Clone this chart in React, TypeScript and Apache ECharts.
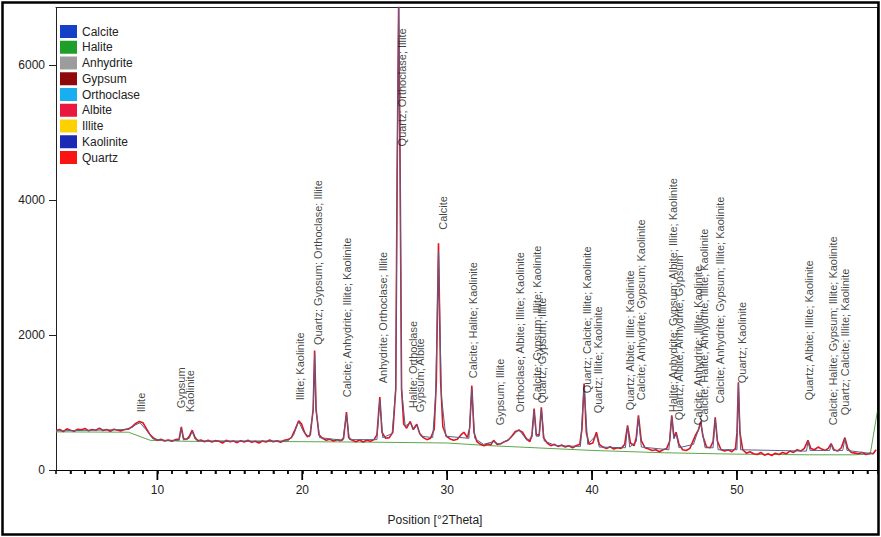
import React, { useEffect, useRef } from "react";
import * as echarts from "echarts";

const FONT = "'Liberation Sans', Arial, sans-serif";

const minerals = ["Calcite", "Halite", "Anhydrite", "Gypsum", "Orthoclase", "Albite", "Illite", "Kaolinite", "Quartz"];
const mineralColors = ["#1440c8", "#1e9e2a", "#9c9c9c", "#8e0a0a", "#19aef0", "#e8183e", "#fdd000", "#1a2ab4", "#fa1414"];

const xMajorTicks = [10, 20, 30, 40, 50];
const xMinorTicks = [4, 5, 6, 7, 8, 9, 11, 12, 13, 14, 15, 16, 17, 18, 19, 21, 22, 23, 24, 25, 26, 27, 28, 29, 31, 32, 33, 34, 35, 36, 37, 38, 39, 41, 42, 43, 44, 45, 46, 47, 48, 49, 51, 52, 53, 54, 55, 56, 57, 58, 59];
const yTicks = [0, 2000, 4000, 6000];

// observed intensity (red), [°2θ, counts]
const observed: [number, number][] = [
  [3.0, 585], [3.25, 600], [3.5, 570], [3.75, 610], [4.0, 590], [4.25, 575], [4.5, 605], [4.75, 595],
  [5.0, 615], [5.25, 580], [5.5, 600], [5.75, 590], [6.0, 620], [6.25, 585], [6.5, 600], [6.75, 575],
  [7.0, 605], [7.25, 590], [7.5, 580], [7.75, 600], [8.0, 610], [8.25, 640], [8.5, 690], [8.75, 720],
  [9.0, 700], [9.25, 610], [9.5, 520], [9.75, 470], [10.0, 440], [10.25, 455], [10.5, 430], [10.75, 445],
  [11.0, 425], [11.25, 450], [11.5, 460], [11.65, 640], [11.8, 470], [12.0, 450], [12.2, 500], [12.4, 590],
  [12.6, 480], [12.8, 430], [13.0, 445], [13.25, 420], [13.5, 440], [13.75, 415], [14.0, 435], [14.25, 425],
  [14.5, 400], [14.75, 440], [15.0, 420], [15.25, 430], [15.5, 405], [15.75, 435], [16.0, 415], [16.25, 440],
  [16.5, 410], [16.75, 425], [17.0, 400], [17.25, 430], [17.5, 415], [17.75, 445], [18.0, 420], [18.25, 435],
  [18.5, 410], [18.75, 440], [19.0, 450], [19.25, 480], [19.5, 600], [19.75, 730], [19.95, 680], [20.15, 560],
  [20.35, 490], [20.55, 520], [20.75, 900], [20.85, 1770], [20.95, 900], [21.15, 520], [21.4, 470], [21.65, 440],
  [21.9, 455], [22.15, 430], [22.4, 450], [22.65, 435], [22.85, 470], [23.05, 860], [23.2, 480], [23.45, 440],
  [23.7, 420], [23.95, 445], [24.2, 415], [24.45, 440], [24.7, 425], [24.95, 450], [25.15, 520], [25.35, 1080],
  [25.5, 560], [25.75, 470], [26.0, 480], [26.25, 560], [26.45, 1200], [26.55, 4500], [26.65, 6900], [26.75, 4500],
  [26.85, 1200], [27.0, 680], [27.2, 620], [27.45, 720], [27.65, 600], [27.9, 680], [28.1, 540], [28.35, 480],
  [28.6, 450], [28.85, 470], [29.1, 600], [29.25, 1300], [29.4, 3360], [29.55, 1300], [29.7, 640], [29.95, 500],
  [30.2, 460], [30.45, 440], [30.7, 455], [30.95, 520], [31.15, 560], [31.4, 480], [31.55, 620], [31.7, 1250],
  [31.85, 560], [32.05, 420], [32.3, 380], [32.55, 360], [32.8, 390], [33.0, 370], [33.2, 440], [33.45, 380],
  [33.7, 390], [33.95, 420], [34.2, 440], [34.45, 500], [34.7, 570], [34.95, 590], [35.2, 560], [35.45, 470],
  [35.7, 420], [35.85, 520], [36.0, 910], [36.15, 520], [36.35, 520], [36.5, 930], [36.65, 480], [36.9, 400],
  [37.15, 360], [37.4, 380], [37.65, 350], [37.9, 370], [38.15, 340], [38.4, 360], [38.65, 330], [38.9, 360],
  [39.15, 380], [39.3, 600], [39.45, 1280], [39.6, 560], [39.8, 380], [40.05, 400], [40.3, 560], [40.5, 380],
  [40.75, 340], [41.0, 320], [41.25, 345], [41.5, 310], [41.75, 330], [42.0, 320], [42.25, 380], [42.45, 660],
  [42.65, 400], [42.9, 360], [43.05, 480], [43.2, 810], [43.4, 430], [43.65, 330], [43.9, 310], [44.15, 290],
  [44.4, 300], [44.65, 270], [44.9, 300], [45.15, 320], [45.35, 420], [45.5, 810], [45.65, 480], [45.8, 560],
  [46.0, 380], [46.25, 300], [46.5, 290], [46.75, 320], [46.95, 420], [47.15, 520], [47.35, 600], [47.5, 720],
  [47.65, 500], [47.9, 340], [48.15, 330], [48.35, 420], [48.5, 780], [48.65, 430], [48.9, 300], [49.15, 280],
  [49.4, 300], [49.65, 270], [49.9, 320], [50.0, 550], [50.1, 1300], [50.2, 560], [50.4, 300], [50.65, 250],
  [50.9, 270], [51.15, 240], [51.4, 230], [51.65, 260], [51.9, 220], [52.15, 240], [52.4, 215], [52.65, 250],
  [52.9, 230], [53.15, 260], [53.4, 240], [53.65, 280], [53.9, 260], [54.15, 300], [54.4, 280], [54.65, 320],
  [54.9, 440], [55.1, 320], [55.35, 300], [55.6, 340], [55.85, 310], [56.1, 290], [56.3, 320], [56.5, 390],
  [56.7, 300], [56.95, 280], [57.2, 330], [57.45, 480], [57.65, 320], [57.9, 260], [58.15, 250], [58.4, 240],
  [58.65, 260], [58.9, 230], [59.15, 250], [59.4, 240], [59.6, 300],
];

// calculated profile (blue/grey)
const calculated: [number, number][] = [
  [3, 580], [8, 600], [8.5, 670], [8.8, 700], [9.2, 600], [9.7, 460], [10.5, 440], [11.5, 440], [11.65, 610],
  [11.8, 445], [12.2, 470], [12.4, 570], [12.6, 460], [13, 430], [19, 430], [19.4, 520], [19.75, 720], [20.1, 560],
  [20.5, 490], [20.75, 880], [20.85, 1720], [20.95, 880], [21.2, 480], [22.8, 440], [23.05, 830], [23.25, 450],
  [25.15, 450], [25.35, 1040], [25.55, 480], [26.2, 540], [26.45, 1200], [26.55, 4500], [26.65, 6900], [26.75, 4500],
  [26.85, 1200], [27.1, 650], [27.45, 700], [27.7, 600], [27.9, 660], [28.2, 500], [29.0, 480], [29.2, 1100],
  [29.4, 3250], [29.6, 1100], [29.9, 500], [31.5, 470], [31.7, 1200], [31.9, 470], [32.5, 380], [33.2, 420],
  [33.6, 380], [34.3, 460], [34.95, 600], [35.5, 440], [35.85, 480], [36.0, 880], [36.15, 500], [36.35, 500],
  [36.5, 900], [36.7, 430], [37.5, 360], [39.2, 350], [39.45, 1250], [39.7, 380], [40.3, 520], [40.5, 340], [42.3, 330],
  [42.45, 640], [42.6, 340], [43.05, 420], [43.2, 780], [43.4, 340], [45.3, 300], [45.5, 790], [45.65, 460],
  [45.8, 540], [46.0, 330], [47.0, 380], [47.5, 700], [47.8, 330], [48.35, 330], [48.5, 760], [48.7, 300],
  [50.0, 300], [50.1, 1280], [50.25, 300], [54.8, 280], [54.9, 420], [55.05, 290], [56.4, 290], [56.5, 380],
  [56.65, 290], [57.3, 290], [57.45, 460], [57.6, 290], [59.4, 240],
];

// background (green)
const background: [number, number][] = [
  [3, 565], [8, 560], [9.5, 440], [12, 425], [20, 420], [25, 412], [30, 400], [33, 360], [35, 340],
  [40, 290], [45, 255], [50, 235], [55, 225], [58, 225], [59.2, 235], [59.7, 880],
];

// peak labels: [°2θ, base counts, text]
const peakLabels: [number, number, string][] = [
  [8.9, 855, "Illite"],
  [11.65, 914, "Gypsum"],
  [12.27, 855, "Kaolinite"],
  [19.86, 1033, "Illite; Kaolinite"],
  [21.1, 1851, "Quartz; Gypsum; Orthoclase; Illite"],
  [23.09, 1078, "Calcite; Anhydrite; Illite; Kaolinite"],
  [25.58, 1286, "Anhydrite; Orthoclase; Illite"],
  [26.88, 4796, "Quartz; Orthoclase; Illite"],
  [27.64, 914, "Halite; Orthoclase"],
  [28.13, 855, "Gypsum; Albite"],
  [29.71, 3561, "Calcite"],
  [31.78, 1361, "Calcite; Halite; Kaolinite"],
  [33.64, 662, "Gypsum; Illite"],
  [35.02, 855, "Orthoclase; Albite; Illite; Kaolinite"],
  [36.19, 1033, "Calcite; Gypsum; Illite; Kaolinite"],
  [36.53, 989, "Quartz; Gypsum; Illite"],
  [39.63, 1138, "Quartz; Calcite; Illite; Kaolinite"],
  [40.39, 840, "Quartz; Illite; Kaolinite"],
  [42.6, 885, "Quartz; Albite; Illite; Kaolinite"],
  [43.36, 1033, "Calcite; Anhydrite; Gypsum; Kaolinite"],
  [45.56, 855, "Halite; Anhydrite; Gypsum; Albite; Illite; Kaolinite"],
  [45.98, 736, "Quartz; Albite; Anhydrite; Gypsum"],
  [47.28, 662, "Calcite; Anhydrite; Illite; Kaolinite"],
  [47.7, 706, "Calcite; Halite; Anhydrite; Illite; Kaolinite"],
  [48.8, 989, "Calcite; Anhydrite; Gypsum; Illite; Kaolinite"],
  [50.32, 1286, "Quartz; Kaolinite"],
  [55.0, 1033, "Quartz; Albite; Illite; Kaolinite"],
  [56.66, 662, "Calcite; Halite; Gypsum; Illite; Kaolinite"],
  [57.48, 810, "Quartz; Calcite; Illite; Kaolinite"],
];

export default function App() {
  const ref = useRef<HTMLDivElement>(null);
  useEffect(() => {
    if (!ref.current) return;
    const chart = echarts.init(ref.current, undefined, { renderer: "svg" });
    const legendSeries = minerals.map((m, i) => ({
      name: m,
      type: "line",
      data: [],
      itemStyle: { color: mineralColors[i] },
      lineStyle: { color: mineralColors[i] },
    }));
    chart.setOption({
      animation: false,
      grid: { left: 56, top: 7.5, right: 3.5, bottom: 67 },
      legend: {
        data: minerals,
        orient: "vertical",
        left: 60,
        top: 25,
        padding: 0,
        itemWidth: 17,
        itemHeight: 13,
        itemGap: 2.75,
        icon: "rect",
        textStyle: { fontSize: 12, color: "#222", fontFamily: FONT, lineHeight: 13 },
        selectedMode: false,
      },
      xAxis: [
        {
          type: "value", min: 3, max: 59.7, interval: 1,
          axisLine: { show: true, onZero: false, lineStyle: { color: "#000", width: 1 } },
          axisTick: { show: true, length: 4, lineStyle: { color: "#000", width: 1.5 } },
          axisLabel: {
            show: true, interval: 0, margin: 14, fontSize: 12, color: "#222", fontFamily: FONT,
            formatter: (v: number) => (xMajorTicks.indexOf(v) >= 0 ? String(v) : ""),
          },
          splitLine: { show: false },
        },
        {
          type: "value", min: 3, max: 59.7, position: "top",
          axisLine: { show: true, onZero: false, lineStyle: { color: "#222", width: 1 } },
          axisTick: { show: false },
          axisLabel: { show: false },
          splitLine: { show: false },
        },
      ],
      yAxis: [
        {
          type: "value", min: 0, max: 6855, position: "left",
          axisLine: { show: true, onZero: false, lineStyle: { color: "#222", width: 1 } },
          axisTick: { show: true, length: 7, lineStyle: { color: "#222" }, customValues: yTicks },
          axisLabel: {
            show: true, customValues: yTicks, margin: 11, fontSize: 12, color: "#222", fontFamily: FONT,
            formatter: (v: number) => String(v),
          },
          splitLine: { show: false },
        },
        {
          type: "value", min: 0, max: 6855, position: "right",
          axisLine: { show: true, onZero: false, lineStyle: { color: "#222", width: 1 } },
          axisTick: { show: false },
          axisLabel: { show: false },
          splitLine: { show: false },
        },
      ],
      graphic: [
        {
          type: "rect", shape: { x: 2.5, y: 2.5, width: 876, height: 532 },
          style: { fill: "none", stroke: "#000", lineWidth: 2.5 }, silent: true, z: 100,
        },
        {
          type: "text", x: 435, y: 520,
          style: { text: "Position [°2Theta]", fontSize: 12, fill: "#222", font: `12px ${FONT}`, align: "center", verticalAlign: "middle" },
        },
      ],
      series: [
        ...legendSeries,
        {
          name: "MinorTickMarks", type: "scatter", clip: false, z: 20, silent: true,
          symbol: "rect", symbolSize: [1.5, 4], symbolOffset: [0, 2],
          itemStyle: { color: "#000" },
          data: xMinorTicks.map((v) => [v, 0]),
        },
        {
          name: "MajorTickMarks", type: "scatter", clip: false, z: 20, silent: true,
          symbol: "rect", symbolSize: [1.5, 10], symbolOffset: [0, 5],
          itemStyle: { color: "#000" },
          data: xMajorTicks.map((v) => [v, 0]),
        },
        {
          name: "MajorTicks", type: "custom", clip: false, z: 10,
          data: xMajorTicks.map((v) => [v, 0]),
          renderItem: (_params: any, api: any) => {
            const p = api.coord([api.value(0), 0]);
            return {
              type: "line",
              shape: { x1: p[0], y1: p[1], x2: p[0], y2: p[1] + 10 },
              style: { stroke: "#000", lineWidth: 1.5 },
            };
          },
        },
        {
          name: "Background", type: "line", data: background, showSymbol: false, symbol: "none",
          lineStyle: { color: "#5aa84a", width: 1 }, z: 2,
        },
        {
          name: "Observed", type: "line", data: observed, showSymbol: false, symbol: "none",
          lineStyle: { color: "#e3151b", width: 1.6 }, z: 3,
        },
        {
          name: "Calculated", type: "line", data: calculated, showSymbol: false, symbol: "none",
          lineStyle: { color: "#55608f", width: 1 }, z: 4,
        },
        {
          name: "Peaks", type: "scatter", symbolSize: 0.1, z: 5,
          itemStyle: { color: "transparent" },
          data: peakLabels.map((p) => ({ value: [p[0], p[1]], name: p[2] })),
          label: {
            show: true, position: "inside", rotate: 90, align: "left", verticalAlign: "middle",
            formatter: (prm: any) => prm.name, fontSize: 11, color: "#111", fontFamily: FONT,
          },
          labelLayout: { hideOverlap: false },
        },
      ],
    });
    return () => chart.dispose();
  }, []);
  return <div ref={ref} style={{ position: "absolute", left: 0, top: 0, width: 881, height: 537 }} />;
}
